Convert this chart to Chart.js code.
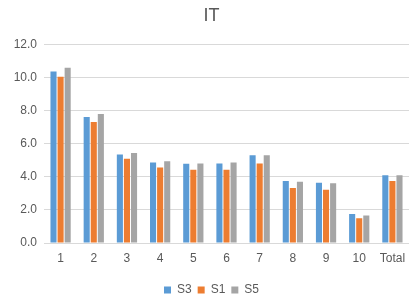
<!DOCTYPE html>
<html>
<head>
<meta charset="utf-8">
<script src="https://cdn.jsdelivr.net/npm/chart.js@4"></script>
<style>
    html, body { margin: 0; padding: 0; background: #fff; }
    #wrap { width: 409px; height: 300px; }
</style>
</head>
<body>
<div id="wrap"><canvas id="itChart"></canvas></div>
<script>
const categories = ['1', '2', '3', '4', '5', '6', '7', '8', '9', '10', 'Total'];
const s3Values = [10.37, 7.62, 5.36, 4.87, 4.79, 4.81, 5.30, 3.75, 3.65, 1.75, 4.10];
const s1Values = [10.05, 7.32, 5.10, 4.57, 4.43, 4.43, 4.81, 3.32, 3.22, 1.49, 3.75];
const s5Values = [10.60, 7.80, 5.44, 4.95, 4.81, 4.87, 5.30, 3.71, 3.61, 1.67, 4.10];
const yTicks = [0, 2, 4, 6, 8, 10, 12];

const textColor = '#595959';
const gridColor = '#D9D9D9';
const baseFont = "'Liberation Sans', Arial, sans-serif";

const ctx = document.getElementById('itChart').getContext('2d');
const chart = new Chart(ctx, {
    type: 'bar',
    data: {
        labels: categories,
        datasets: [
            { label: 'S3', data: s3Values, backgroundColor: '#5B9BD5' },
            { label: 'S1', data: s1Values, backgroundColor: '#ED7D31' },
            { label: 'S5', data: s5Values, backgroundColor: '#A5A5A5' }
        ]
    },
    options: {
        responsive: true,
        maintainAspectRatio: false,
        animation: false,
        datasets: {
            bar: { categoryPercentage: 0.64, barPercentage: 0.86 }
        },
        layout: {
            padding: { left: 14, right: 0, top: 3, bottom: -6 }
        },
        plugins: {
            title: {
                display: true,
                text: 'IT',
                color: textColor,
                font: { family: baseFont, size: 18, weight: 'normal' },
                padding: { top: 2, bottom: 18 }
            },
            legend: {
                position: 'bottom',
                labels: {
                    color: textColor,
                    boxWidth: 7,
                    boxHeight: 7,
                    padding: 6,
                    font: { family: baseFont, size: 12 }
                }
            },
            tooltip: { enabled: false }
        },
        scales: {
            x: {
                grid: { display: false },
                border: { color: gridColor, width: 1 },
                ticks: {
                    color: textColor,
                    padding: 0,
                    font: { family: baseFont, size: 12 }
                },
                afterFit: (scale) => { scale.height = 35; }
            },
            y: {
                min: 0,
                max: 12,
                afterBuildTicks: (scale) => { scale.ticks = yTicks.map(v => ({ value: v })); },
                afterFit: (scale) => { scale.width = 30; },
                grid: { color: gridColor, lineWidth: 1, drawTicks: false },
                border: { display: false },
                ticks: {
                    color: textColor,
                    padding: 7,
                    font: { family: baseFont, size: 12 },
                    callback: (v) => Number(v).toFixed(1)
                }
            }
        }
    }
});
</script>
</body>
</html>
